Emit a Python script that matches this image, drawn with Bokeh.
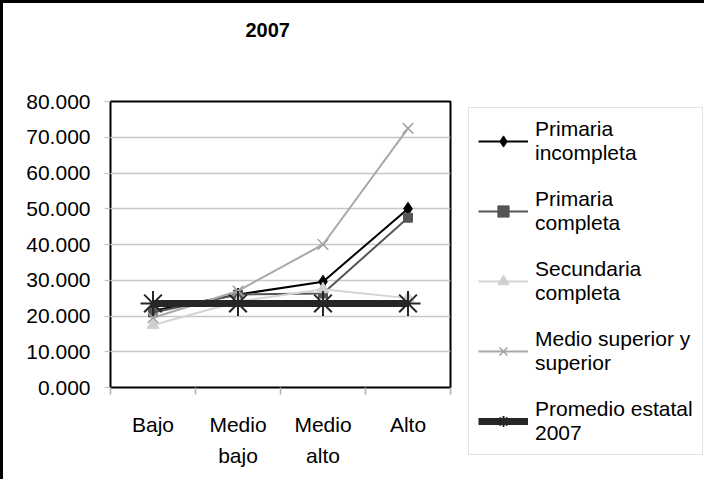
from bokeh.plotting import figure
from bokeh.models import Range1d, FixedTicker, Legend, LegendItem, Title
from bokeh.embed import file_html
from bokeh.resources import INLINE

# ---- data ----
title_text = "2007"
categories = ["Bajo", "Medio\nbajo", "Medio\nalto", "Alto"]
primaria_incompleta = [21.5, 26.0, 29.6, 50.0]
primaria_completa = [21.0, 26.0, 26.3, 47.5]
secundaria_completa = [17.5, 24.0, 27.5, 25.0]
medio_superior = [19.5, 27.0, 40.0, 72.5]
promedio_estatal = [23.5, 23.5, 23.5, 23.5]
y_ticks = [0, 10, 20, 30, 40, 50, 60, 70, 80]
y_tick_labels = ["0.000", "10.000", "20.000", "30.000", "40.000",
                 "50.000", "60.000", "70.000", "80.000"]
series_names = ["Primaria\nincompleta", "Primaria\ncompleta", "Secundaria\ncompleta",
                "Medio superior y\nsuperior", "Promedio estatal\n2007"]

xs = [i + 0.5 for i in range(len(categories))]
FONT = "Liberation Sans"

p = figure(frame_width=340, frame_height=286, min_border_left=107, min_border_top=98,
           min_border_right=252, min_border_bottom=92,
           x_range=Range1d(0, len(categories)), y_range=Range1d(0, 80),
           output_backend="svg", toolbar_location=None,
           background_fill_color="white", border_fill_color="white")
p.styles = {"border-left": "3px solid black", "border-top": "3px solid black"}

p.outline_line_color = "black"
p.outline_line_width = 2
p.outline_line_alpha = 1

# extra blank lines push the title text up to the top of the chart area
t = Title(text=title_text + "\n \n ", align="left", offset=135,
          text_font=FONT, text_font_style="bold", text_line_height=1.26,
          text_font_size="20px", text_color="black")
p.add_layout(t, "above")

# axes
p.xaxis.ticker = FixedTicker(ticks=xs, minor_ticks=list(range(len(categories) + 1)))
p.xaxis.major_label_overrides = {x: c for x, c in zip(xs, categories)}
p.xaxis.major_tick_out = 0
p.xaxis.major_tick_in = 0
p.xaxis.minor_tick_out = 7
p.xaxis.minor_tick_in = 0
p.xaxis.minor_tick_line_color = "#b0b0b0"
p.xaxis.minor_tick_line_width = 1.5
p.xaxis.axis_line_color = None
p.xaxis.major_label_standoff = 18
p.xaxis.major_label_text_font = FONT
p.xaxis.major_label_text_font_size = "21px"
p.xaxis.major_label_text_color = "black"
p.xaxis.major_label_text_line_height = 1.35

p.yaxis.ticker = FixedTicker(ticks=y_ticks)
p.yaxis.major_label_overrides = {v: l for v, l in zip(y_ticks, y_tick_labels)}
p.yaxis.major_tick_out = 6
p.yaxis.major_tick_in = 0
p.yaxis.major_tick_line_color = "#c0c0c0"
p.yaxis.minor_tick_line_color = None
p.yaxis.axis_line_color = None
p.yaxis.major_label_standoff = 14
p.yaxis.major_label_text_font = FONT
p.yaxis.major_label_text_font_size = "21px"
p.yaxis.major_label_text_color = "black"

p.xgrid.grid_line_color = None
p.ygrid.ticker = FixedTicker(ticks=y_ticks)
p.ygrid.grid_line_color = "#c8c8c8"
p.ygrid.grid_line_width = 1.5

items = []

def add_series(vals, name, color, lw, marker, msize, mcolor, mline=1.0):
    r1 = p.line(xs, vals, line_color=color, line_width=lw)
    r2 = p.scatter(xs, vals, marker=marker, size=msize, fill_color=mcolor,
                   line_color=mcolor, line_width=mline)
    items.append(LegendItem(label=name, renderers=[r1, r2]))

add_series(primaria_incompleta, series_names[0], "black", 2, "diamond", 13, "black")
add_series(primaria_completa, series_names[1], "#555555", 2, "square", 9, "#555555")
add_series(secundaria_completa, series_names[2], "#d4d4d4", 2, "triangle", 12, "#d0d0d0")
add_series(medio_superior, series_names[3], "#a8a8a8", 2, "x", 15, "#a0a0a0", 1.5)
add_series(promedio_estatal, series_names[4], "#262626", 7, "asterisk", 25, "#262626", 2)

legend = Legend(items=items, location=(18, -68),
                label_text_font=FONT, label_text_font_size="21px",
                label_text_color="black",
                glyph_width=50, glyph_height=28, label_standoff=7,
                spacing=22, padding=9, margin=0,
                border_line_color="#c8c8c8", border_line_width=1.5,
                background_fill_color="white", background_fill_alpha=1)
p.add_layout(legend, "right")

open("out.html", "w").write(file_html(p, INLINE))
